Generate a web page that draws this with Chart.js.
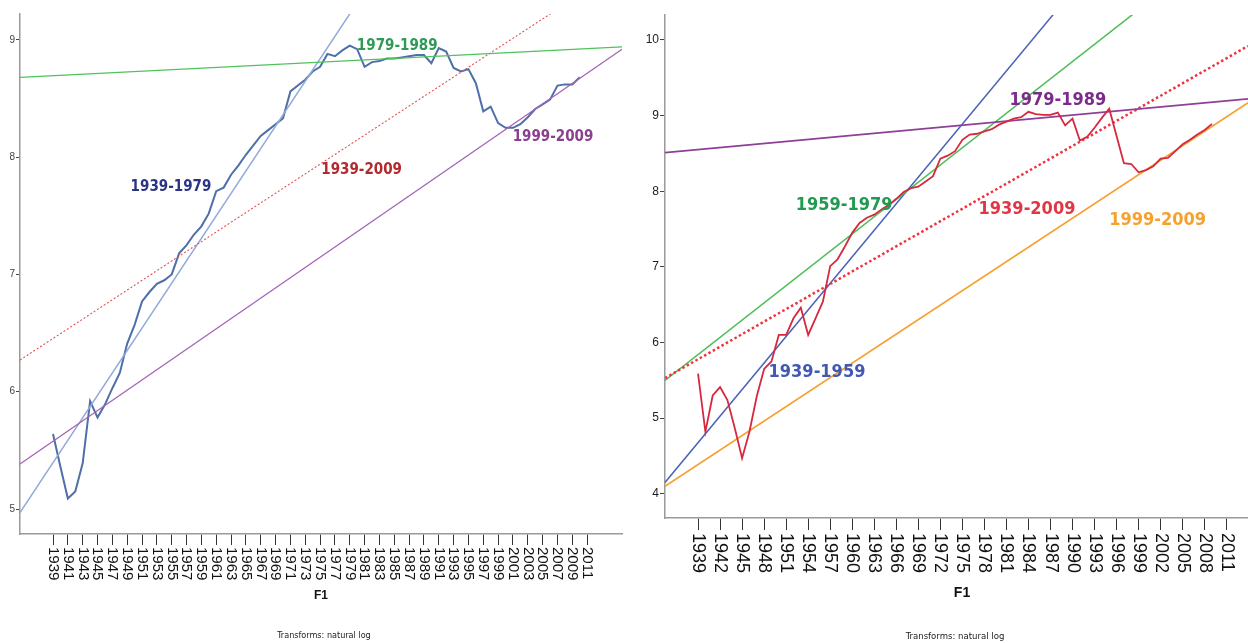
<!DOCTYPE html>
<html><head><meta charset="utf-8">
<script src="https://cdn.jsdelivr.net/npm/chart.js@4.4.1/dist/chart.umd.min.js"></script>
<style>
html,body{margin:0;padding:0;background:#fff;width:1248px;height:643px;overflow:hidden;position:relative}
.wrap{position:absolute;top:0;height:643px;width:624px}
#w1{left:0}#w2{left:624px}
.txt{position:absolute;white-space:nowrap;transform:translateX(-50%);color:#222}
.note{font-family:'Liberation Sans Narrow','DejaVu Sans Condensed',sans-serif}
.ttl{font-weight:bold;font-family:'Liberation Sans',Arial,sans-serif;color:#111}
</style></head><body>
<div class="wrap" id="w1"><canvas id="c1" width="624" height="643"></canvas></div>
<div class="wrap" id="w2"><canvas id="c2" width="624" height="643"></canvas></div>
<div class="txt ttl" style="left:321px;top:588px;font-size:12px">F1</div>
<div class="txt ttl" style="left:962px;top:584px;font-size:14px">F1</div>
<div class="txt note" style="left:324px;top:630px;font-size:9px">Transforms: natural log</div>
<div class="txt note" style="left:955px;top:630px;font-size:9.5px">Transforms: natural log</div>
<script>
// ---------- data: left panel ----------
const leftYears = [1939,1940,1941,1942,1943,1944,1945,1946,1947,1948,1949,1950,1951,1952,1953,1954,1955,1956,1957,1958,1959,1960,1961,1962,1963,1964,1965,1966,1967,1968,1969,1970,1971,1972,1973,1974,1975,1976,1977,1978,1979,1980,1981,1982,1983,1984,1985,1986,1987,1988,1989,1990,1991,1992,1993,1994,1995,1996,1997,1998,1999,2000,2001,2002,2003,2004,2005,2006,2007,2008,2009,2010];
const leftValues = [5.64,5.36,5.09,5.15,5.39,5.92,5.78,5.89,6.03,6.16,6.41,6.57,6.77,6.85,6.92,6.95,7.00,7.18,7.25,7.34,7.41,7.52,7.71,7.74,7.85,7.93,8.02,8.10,8.18,8.23,8.28,8.33,8.56,8.61,8.66,8.73,8.77,8.88,8.86,8.91,8.95,8.92,8.77,8.81,8.82,8.84,8.84,8.85,8.86,8.87,8.87,8.80,8.93,8.90,8.76,8.73,8.75,8.63,8.39,8.43,8.29,8.25,8.25,8.28,8.34,8.41,8.45,8.49,8.61,8.62,8.62,8.68];
const leftXTicks = [1939,1941,1943,1945,1947,1949,1951,1953,1955,1957,1959,1961,1963,1965,1967,1969,1971,1973,1975,1977,1979,1981,1983,1985,1987,1989,1991,1993,1995,1997,1999,2001,2003,2005,2007,2009,2011];
const leftYTicks = [5,6,7,8,9];
// fitted trend lines (endpoints read at the axis edges)
const leftFit1939_1979 = [[1934.55,4.97],[2015.7,12.73]];
const leftFit1979_1989 = [[1934.55,8.68],[2015.7,8.94]];
const leftFit1939_2009 = [[1934.55,6.27],[2015.7,9.62]];
const leftFit1999_2009 = [[1934.55,5.384],[2015.7,8.92]];
const leftNotes = [
  ['1939-1979',1954.9,7.74,'#2b3585'],
  ['1979-1989',1985.4,8.95,'#2e9a55'],
  ['1939-2009',1980.6,7.89,'#b2292e'],
  ['1999-2009',2006.4,8.17,'#8a3f8f']
];

// ---------- data: right panel ----------
const rightYears = [1939,1940,1941,1942,1943,1944,1945,1946,1947,1948,1949,1950,1951,1952,1953,1954,1955,1956,1957,1958,1959,1960,1961,1962,1963,1964,1965,1966,1967,1968,1969,1970,1971,1972,1973,1974,1975,1976,1977,1978,1979,1980,1981,1982,1983,1984,1985,1986,1987,1988,1989,1990,1991,1992,1993,1994,1995,1996,1997,1998,1999,2000,2001,2002,2003,2004,2005,2006,2007,2008,2009];
const rightValues = [5.59,4.82,5.30,5.41,5.24,4.87,4.47,4.82,5.29,5.65,5.75,6.10,6.10,6.32,6.46,6.10,6.32,6.54,7.01,7.10,7.27,7.45,7.58,7.65,7.69,7.76,7.82,7.90,7.99,8.04,8.06,8.13,8.20,8.43,8.47,8.53,8.68,8.75,8.76,8.79,8.82,8.88,8.92,8.96,8.98,9.05,9.02,9.01,9.01,9.04,8.87,8.96,8.67,8.72,8.84,8.97,9.09,8.73,8.37,8.36,8.25,8.28,8.33,8.43,8.44,8.53,8.62,8.68,8.75,8.81,8.89];
const rightXTicks = [1939,1942,1945,1948,1951,1954,1957,1960,1963,1966,1969,1972,1975,1978,1981,1984,1987,1990,1993,1996,1999,2002,2005,2008,2011];
const rightYTicks = [4,5,6,7,8,9,10];
const rightFit1939_1959 = [[1934.5,4.15],[2013.9,13.44]];
const rightFit1959_1979 = [[1934.5,5.50],[2013.9,11.53]];
const rightFit1939_2009 = [[1934.5,5.53],[2013.9,9.92]];
const rightFit1979_1989 = [[1934.5,8.51],[2013.9,9.22]];
const rightFit1999_2009 = [[1934.5,4.10],[2013.9,9.17]];
const rightNotes = [
  ['1959-1979',1958.9,7.81,'#1f9a4f'],
  ['1939-1959',1955.2,5.60,'#4259b2'],
  ['1979-1989',1988.0,9.20,'#7b2c8a'],
  ['1939-2009',1983.8,7.76,'#e23645'],
  ['1999-2009',2001.6,7.62,'#f5a12e']
];

const pts = (xs, ys) => xs.map((x,i)=>({x:x,y:ys[i]}));
const seg = a => a.map(p=>({x:p[0],y:p[1]}));

const xLabelPlugin = {
  id:'xlab',
  afterDraw(chart, args, o){
    const xs = chart.scales.x, ys = chart.scales.y, ctx = chart.ctx;
    ctx.save();
    ctx.font = o.font; ctx.fillStyle = '#111';
    ctx.textAlign = 'left'; ctx.textBaseline = 'middle';
    xs.ticks.forEach(t=>{
      const px = xs.getPixelForValue(t.value);
      ctx.save();
      ctx.translate(px, xs.top + o.offset);
      ctx.rotate(Math.PI/2);
      ctx.fillText(String(t.value), 0, 0);
      ctx.restore();
    });
    ctx.textAlign = 'center';
    ctx.font = o.noteFont;
    o.notes.forEach(n=>{
      ctx.fillStyle = n[3];
      ctx.fillText(n[0], xs.getPixelForValue(n[1]), ys.getPixelForValue(n[2]));
    });
    ctx.restore();
  }
};

function lineDs(data, color, width, dash){
  return {data:data, borderColor:color, borderWidth:width, borderDash:dash||[], pointRadius:0, tension:0, fill:false};
}

function makeChart(id, cfg){
  return new Chart(document.getElementById(id), {
    type:'line',
    data:{datasets:cfg.datasets},
    options:{
      responsive:false, animation:false, events:[],
      layout:{padding:{top:cfg.padTop,right:cfg.padRight,left:0,bottom:0}},
      plugins:{legend:{display:false},tooltip:{enabled:false},
        xlab:{font:cfg.xFont, offset:cfg.xOffset, noteFont:cfg.noteFont, notes:cfg.notes}},
      scales:{
        x:{type:'linear',min:cfg.xMin,max:cfg.xMax,
          afterBuildTicks:s=>{s.ticks = cfg.xTicks.map(v=>({value:v}));},
          afterFit:s=>{s.height = cfg.xH;},
          ticks:{display:false,autoSkip:false},
          grid:{display:true,drawOnChartArea:false,drawTicks:true,tickLength:cfg.xTickLen,color:'#333',lineWidth:1},
          border:{display:true,color:'#9a9a9a',width:1.5}
        },
        y:{type:'linear',min:cfg.yMin,max:cfg.yMax,
          afterBuildTicks:s=>{s.ticks = cfg.yTicks.map(v=>({value:v}));},
          afterFit:s=>{s.width = cfg.yW;},
          ticks:{display:true,autoSkip:false,padding:1,color:cfg.yColor,font:{family:"'Liberation Sans Narrow','Liberation Sans',sans-serif",size:cfg.ySize}},
          grid:{display:true,drawOnChartArea:false,drawTicks:true,tickLength:cfg.yTickLen,color:'#444',lineWidth:1},
          border:{display:true,color:'#9a9a9a',width:1.5}
        }
      }
    },
    plugins:[xLabelPlugin]
  });
}

makeChart('c1', {
  padTop:14, padRight:2, xMin:1934.55, xMax:2015.7, yMin:4.787, yMax:9.22,
  xTicks:leftXTicks, yTicks:leftYTicks, xH:109, yW:20, xTickLen:11, yTickLen:4,
  yColor:'#444', ySize:10, xFont:"15px 'Liberation Sans', Arial, sans-serif", xOffset:13,
  noteFont:"bold 15px 'Liberation Sans Narrow','DejaVu Sans Condensed',sans-serif", notes:leftNotes,
  datasets:[
    lineDs(seg(leftFit1979_1989),'#4fc35c',1.2),
    lineDs(seg(leftFit1939_2009),'#e05252',1.1,[2,2]),
    lineDs(seg(leftFit1999_2009),'#a563b5',1.3),
    lineDs(seg(leftFit1939_1979),'#93a8da',1.5),
    lineDs(pts(leftYears,leftValues),'#4e6fa8',2)
  ]
});

makeChart('c2', {
  padTop:15, padRight:0, xMin:1934.5, xMax:2013.9, yMin:3.68, yMax:10.33,
  xTicks:rightXTicks, yTicks:rightYTicks, xH:125, yW:41, xTickLen:12, yTickLen:5,
  yColor:'#222', ySize:12, xFont:"18px 'Liberation Sans', Arial, sans-serif", xOffset:15,
  noteFont:"bold 18px 'Liberation Sans Narrow','DejaVu Sans Condensed',sans-serif", notes:rightNotes,
  datasets:[
    lineDs(pts(rightYears,rightValues),'#d6293f',1.8),
    lineDs(seg(rightFit1979_1989),'#8e3f98',1.8),
    lineDs(seg(rightFit1939_2009),'#f2323f',2.5,[2.5,2.5]),
    lineDs(seg(rightFit1959_1979),'#4cbd56',1.5),
    lineDs(seg(rightFit1939_1959),'#4a62b6',1.5),
    lineDs(seg(rightFit1999_2009),'#f6a131',1.6)
  ]
});
</script>
</body></html>
